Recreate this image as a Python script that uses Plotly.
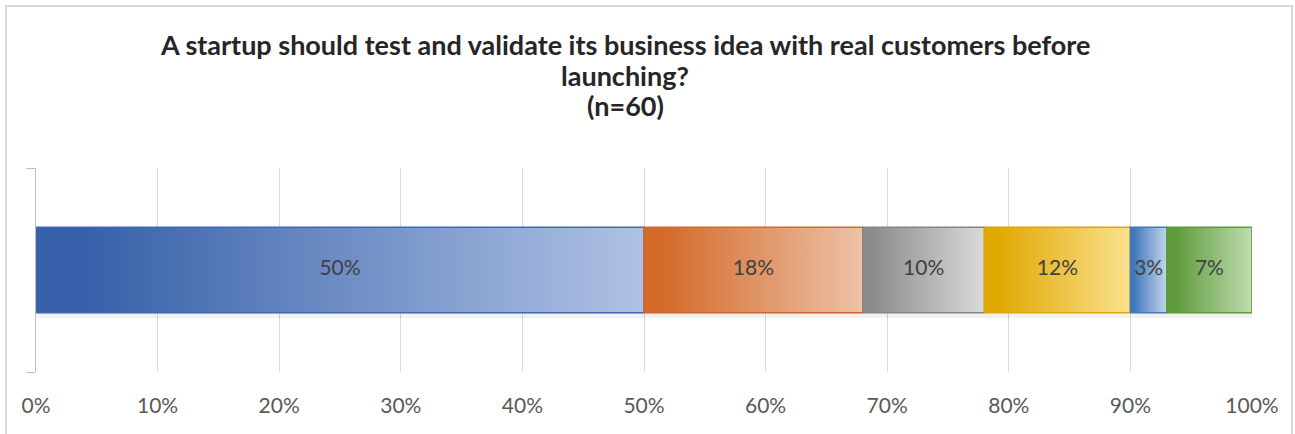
import plotly.graph_objects as go

# ---- data ----
series_names = ["Response 1", "Response 2", "Response 3", "Response 4", "Response 5", "Response 6"]
values = [50, 18, 10, 12, 3, 7]
labels = ["50%", "18%", "10%", "12%", "3%", "7%"]
tick_values = [0, 10, 20, 30, 40, 50, 60, 70, 80, 90, 100]
tick_labels = ["0%", "10%", "20%", "30%", "40%", "50%", "60%", "70%", "80%", "90%", "100%"]
title_lines = ["A startup should test and validate its business idea with real customers before",
               "launching?",
               "(n=60)"]

# ---- styles ----
dark_colors = ["#3660A9", "#D36A2A", "#8C8C8C", "#E1A800", "#3F77BA", "#5C9A3A"]
light_colors = ["#B0C2E4", "#EEC2A8", "#DADADA", "#FBE18F", "#C3D6EC", "#BFDCAF"]
line_colors = ["#4068B4", "#CF682C", "#858585", "#DDA600", "#4679BC", "#5E9A3E"]

W, H = 1295, 434
ml, mr, mt, mb = 36, 43, 168, 62
pw, ph = W - ml - mr, H - mt - mb
FONT = "Lato, Open Sans, sans-serif"

def px_to_paper_x(px):
    return (px - ml) / pw

def px_to_paper_y(py):
    return (H - mb - py) / ph

half = 0.42
fig = go.Figure()

start = 0
for name, v, dc, lc, oc in zip(series_names, values, dark_colors, light_colors, line_colors):
    x0, x1 = start, start + v
    # faint shadow
    fig.add_trace(go.Scatter(
        x=[x0 + 0.1, x1 + 0.1, x1 + 0.1, x0 + 0.1, x0 + 0.1],
        y=[-half - 0.05, -half - 0.05, -half, -half, -half - 0.05],
        fill="toself", fillcolor="rgba(0,0,0,0.05)", line=dict(width=0),
        mode="lines", hoverinfo="skip", showlegend=False))
    fig.add_trace(go.Scatter(
        x=[x0, x1, x1, x0, x0],
        y=[-half, -half, half, half, -half],
        fill="toself",
        fillgradient=dict(type="horizontal",
                          colorscale=[[0, dc], [0.08, dc], [1, lc]]),
        line=dict(color=oc, width=1.5),
        mode="lines", name=name, showlegend=False))
    start = x1

mids = []
s = 0
for v in values:
    mids.append(s + v / 2)
    s += v
fig.add_trace(go.Scatter(
    x=mids, y=[0.0] * len(values), mode="text", text=labels,
    textfont=dict(family=FONT, size=21, color="#404040"),
    textposition="middle center", showlegend=False, hoverinfo="skip"))

title_y_px = [45, 75, 105]
annotations = [dict(
    text="<b>" + line + "</b>",
    xref="paper", yref="paper",
    x=px_to_paper_x(625), y=px_to_paper_y(yp),
    xanchor="center", yanchor="middle", showarrow=False,
    font=dict(family=FONT, size=27, color="#262626"))
    for line, yp in zip(title_lines, title_y_px)]

fig.update_layout(
    width=W, height=H,
    margin=dict(l=ml, r=mr, t=mt, b=mb),
    paper_bgcolor="white", plot_bgcolor="white",
    showlegend=False,
    xaxis=dict(range=[0, 100], tickvals=tick_values, ticktext=tick_labels,
               showgrid=True, gridcolor="#D9D9D9", gridwidth=1,
               zeroline=False, showline=False,
               ticks="outside", ticklen=15, tickcolor="rgba(0,0,0,0)",
               tickfont=dict(family=FONT, size=21, color="#595959"),
               fixedrange=True),
    yaxis=dict(range=[-1, 1], tickvals=[-1, 1], showticklabels=False,
               showgrid=False, zeroline=False,
               showline=True, linecolor="#BFBFBF", linewidth=1,
               ticks="outside", ticklen=9, tickcolor="#BFBFBF",
               fixedrange=True),
    annotations=annotations,
    shapes=[dict(type="rect", xref="paper", yref="paper",
                 x0=px_to_paper_x(6), x1=px_to_paper_x(1292),
                 y0=px_to_paper_y(445), y1=px_to_paper_y(6),
                 line=dict(color="#D9D9D9", width=2), fillcolor="rgba(0,0,0,0)",
                 layer="below")],
)

fig.write_html("out.html")
